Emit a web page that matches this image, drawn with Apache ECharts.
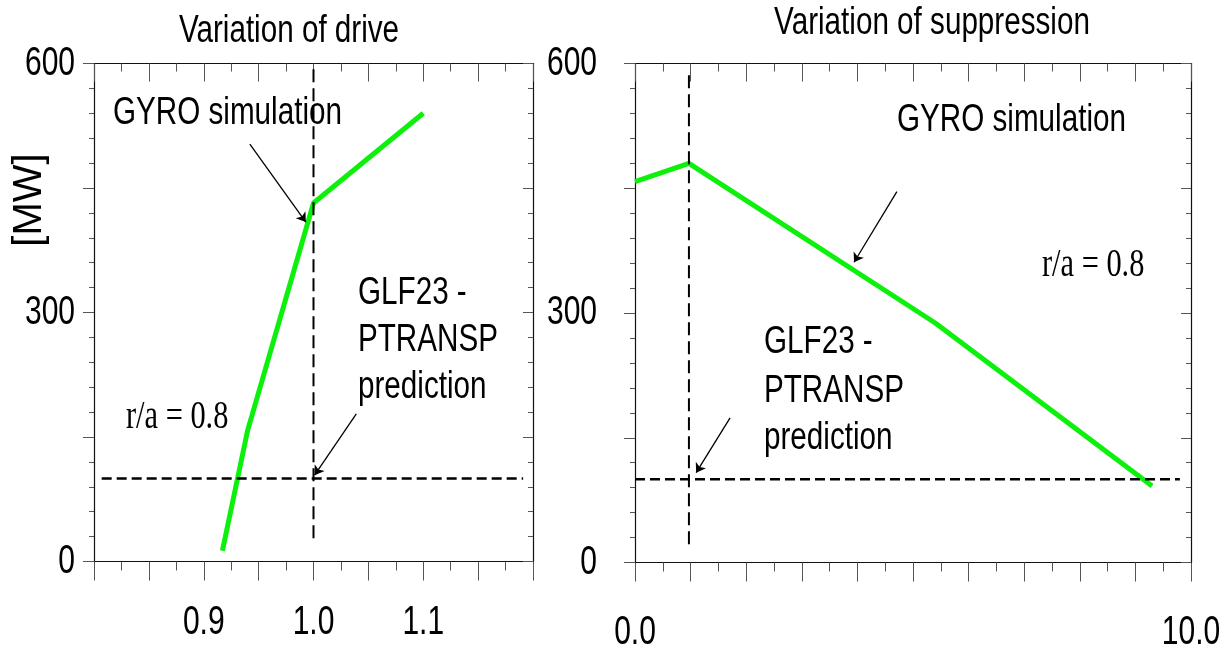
<!DOCTYPE html>
<html>
<head>
<meta charset="utf-8">
<title>Variation of drive / suppression</title>
<script src="https://cdn.jsdelivr.net/npm/echarts@6/dist/echarts.min.js"></script>
<style>
  html, body { margin: 0; padding: 0; background: #fff; }
  #chart { width: 1223px; height: 655px; }
</style>
</head>
<body>
<div id="chart"></div>
<script>
// ---- data ----
// left panel: heat flux [MW] vs drive (normalised)
const driveX = [0.917, 0.94, 1.0, 1.1];
const driveMW = [13, 158, 432, 540];
// right panel: heat flux [MW] vs suppression
const suppX = [0.0, 0.97, 5.4, 9.3];
const suppMW = [458, 480, 288, 92];

// GLF23 - PTRANSP prediction level and the nominal point
const glfLevel = 100;
const driveNominal = 1.0;
const suppNominal = 0.97;
// extent of the dashed guide lines
const driveVSpan = [28, 600];
const driveHSpan = [0.807, 1.191];
const suppVSpan = [22, 586];
const suppHSpan = [0.0, 9.8];

// annotation arrows [from, to] in data units
const driveArrows = [[[0.942, 503], [0.993, 409]], [[1.039, 178], [1.001, 104]]];
const suppArrows = [[[4.71, 446], [3.94, 361]], [[1.71, 174], [1.10, 108]]];

// tick labels
const yTickLabels = ['0', '300', '600'];
const driveTickLabels = ['0.9', '1.0', '1.1'];
const suppTickLabels = ['0.0', '10.0'];

// no narrow face installed, so sans text is squeezed with scaleX
const sans = "'Liberation Sans', Arial, sans-serif";
const serif = "'Liberation Serif', 'DejaVu Serif', serif";
const green = '#0cf00c';
const tickColor = '#555';

function xAxes(grid, min, max, interval) {
  const line = { show: true, onZero: false, lineStyle: { color: '#111', width: 1.2 } };
  return [
    {
      gridIndex: grid, type: 'value', position: 'bottom', min: min, max: max, interval: interval,
      axisLine: line,
      axisTick: { show: true, inside: false, length: 19, lineStyle: { color: tickColor } },
      minorTick: { show: true, splitNumber: 2, length: 9, lineStyle: { color: tickColor } },
      splitLine: { show: false },
      axisLabel: { show: false } // drawn below as condensed text
    },
    {
      gridIndex: grid, type: 'value', position: 'top', min: min, max: max, interval: interval,
      axisLine: line,
      axisTick: { show: true, inside: true, length: 18, lineStyle: { color: tickColor } },
      minorTick: { show: true, splitNumber: 2, length: 8, lineStyle: { color: tickColor } },
      splitLine: { show: false },
      axisLabel: { show: false }
    }
  ];
}

function yAxes(grid) {
  const line = { show: true, onZero: false, lineStyle: { color: '#111', width: 1.2 } };
  return [
    {
      gridIndex: grid, type: 'value', position: 'left', min: 0, max: 600, interval: 150,
      axisLine: line,
      axisTick: { show: true, inside: false, length: 11, lineStyle: { color: tickColor } },
      minorTick: { show: true, splitNumber: 5, length: 5, lineStyle: { color: tickColor } },
      splitLine: { show: false },
      axisLabel: { show: false }
    },
    {
      gridIndex: grid, type: 'value', position: 'right', min: 0, max: 600, interval: 150,
      axisLine: line,
      axisTick: { show: true, inside: true, length: 10, lineStyle: { color: tickColor } },
      minorTick: { show: true, splitNumber: 5, length: 5, lineStyle: { color: tickColor } },
      splitLine: { show: false },
      axisLabel: { show: false }
    }
  ];
}

function zip(xs, ys) {
  return xs.map(function (x, i) { return [x, ys[i]]; });
}

function arrowLines(list) {
  return list.map(function (a) { return [{ coord: a[0] }, { coord: a[1] }]; });
}

function panelSeries(axis, xs, ys, nominal, vSpan, hSpan, arrows) {
  return [
    {
      type: 'line', xAxisIndex: axis, yAxisIndex: axis,
      data: zip(xs, ys),
      symbol: 'none',
      lineStyle: { color: green, width: 5 },
      z: 3,
      markLine: {
        silent: true,
        symbol: ['none', 'arrow'],
        symbolSize: 9,
        label: { show: false },
        lineStyle: { color: '#000', width: 1.3, type: 'solid' },
        data: arrowLines(arrows)
      }
    },
    {
      // vertical dashed guide at the nominal value
      type: 'line', xAxisIndex: axis, yAxisIndex: axis,
      data: [[nominal, vSpan[0]], [nominal, vSpan[1]]],
      symbol: 'none',
      lineStyle: { color: '#000', width: 2, type: [13, 6] }
    },
    {
      // horizontal dashed GLF23 - PTRANSP prediction
      type: 'line', xAxisIndex: axis, yAxisIndex: axis,
      data: [[hSpan[0], glfLevel], [hSpan[1], glfLevel]],
      symbol: 'none',
      lineStyle: { color: '#000', width: 2.5, type: [10, 5] }
    }
  ];
}

// condensed text element
function txt(x, y, text, align, size, sx, family, rot) {
  return {
    type: 'text', x: x, y: y, scaleX: sx, rotation: rot || 0, silent: true,
    style: {
      text: text, fill: '#000', font: size + 'px ' + family,
      align: align, verticalAlign: 'middle'
    }
  };
}

const myChart = echarts.init(document.getElementById('chart'), null, { renderer: 'canvas' });

const option = {
  animation: false,
  backgroundColor: '#fff',
  grid: [
    { left: 94, right: 690, top: 63.5, bottom: 93.5, outerBoundsMode: 'none' },
    { left: 635, right: 32, top: 63.5, bottom: 92.5, outerBoundsMode: 'none' }
  ],
  xAxis: xAxes(0, 0.8, 1.2, 0.05).concat(xAxes(1, 0, 10, 1)),
  yAxis: yAxes(0).concat(yAxes(1)),
  series: panelSeries(0, driveX, driveMW, driveNominal, driveVSpan, driveHSpan, driveArrows)
    .concat(panelSeries(2, suppX, suppMW, suppNominal, suppVSpan, suppHSpan, suppArrows))
};

myChart.setOption(option);

// tick labels placed from the axes' own scales
function tickTexts(xIdx, yIdx, xLabels, yGap, xDrop) {
  const out = [];
  const x0 = myChart.convertToPixel({ xAxisIndex: xIdx }, myChart.getModel().getComponent('xAxis', xIdx).get('min'));
  const y0 = myChart.convertToPixel({ yAxisIndex: yIdx }, 0);
  yTickLabels.forEach(function (t) {
    const py = myChart.convertToPixel({ yAxisIndex: yIdx }, Number(t));
    out.push(txt(x0 - yGap, py, t, 'right', 40, 0.75, sans));
  });
  xLabels.forEach(function (t) {
    const px = myChart.convertToPixel({ xAxisIndex: xIdx }, Number(t));
    out.push(txt(px, y0 + xDrop, t, 'center', 40, 0.75, sans));
  });
  return out;
}

const notes = [
  txt(289, 32, 'Variation of drive', 'center', 38, 0.78, sans),
  txt(932, 24, 'Variation of suppression', 'center', 38, 0.78, sans),
  txt(30, 200, '[MW]', 'center', 40, 1, sans, Math.PI / 2),
  // left panel notes
  txt(113, 114, 'GYRO simulation', 'left', 38, 0.78, sans),
  txt(358, 294, 'GLF23 -', 'left', 38, 0.78, sans),
  txt(358, 341, 'PTRANSP', 'left', 38, 0.78, sans),
  txt(358, 388, 'prediction', 'left', 38, 0.78, sans),
  txt(126, 417, 'r/a = 0.8', 'left', 40, 0.76, serif),
  // right panel notes
  txt(897, 121, 'GYRO simulation', 'left', 38, 0.78, sans),
  txt(764, 343, 'GLF23 -', 'left', 38, 0.78, sans),
  txt(764, 392, 'PTRANSP', 'left', 38, 0.78, sans),
  txt(764, 439, 'prediction', 'left', 38, 0.78, sans),
  txt(1042, 265, 'r/a = 0.8', 'left', 40, 0.76, serif)
];

myChart.setOption({
  graphic: notes
    .concat(tickTexts(0, 0, driveTickLabels, 19, 61))
    .concat(tickTexts(2, 2, suppTickLabels, 38, 70))
});

window.addEventListener('resize', function () {
  myChart.resize();
});
</script>
</body>
</html>
